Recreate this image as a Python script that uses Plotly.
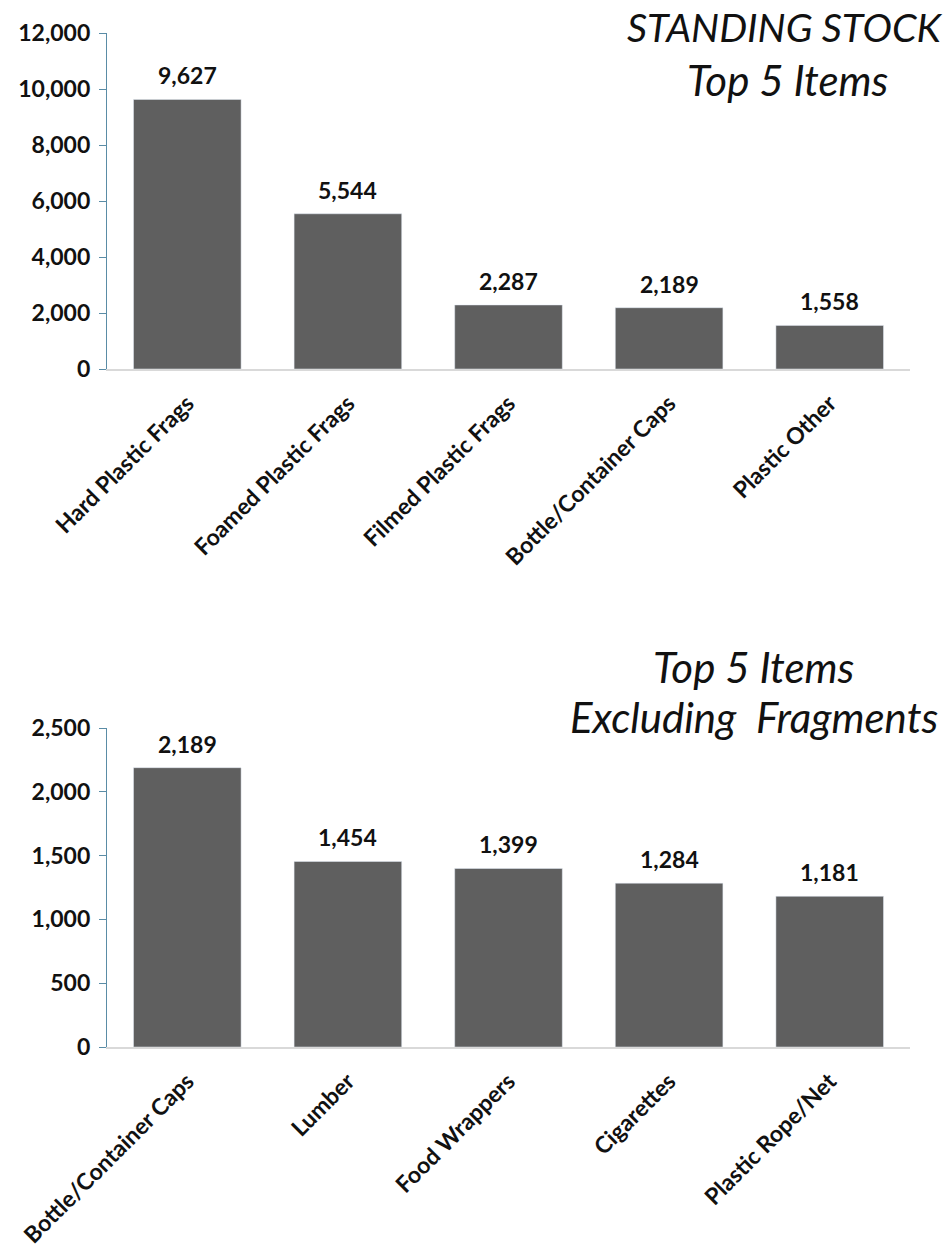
import plotly.graph_objects as go

top_categories = ["Hard Plastic Frags", "Foamed Plastic Frags", "Filmed Plastic Frags",
                  "Bottle/Container Caps", "Plastic Other"]
top_values = [9627, 5544, 2287, 2189, 1558]
top_ticks = [0, 2000, 4000, 6000, 8000, 10000, 12000]

bot_categories = ["Bottle/Container Caps", "Lumber", "Food Wrappers", "Cigarettes", "Plastic Rope/Net"]
bot_values = [2189, 1454, 1399, 1284, 1181]
bot_ticks = [0, 500, 1000, 1500, 2000, 2500]

W, H = 951, 1254
BAR = "#5f5f5f"
FONT = "Lato"

def py(px):
    return 1 - px / H

fig = go.Figure()
fig.add_trace(go.Bar(x=top_categories, y=top_values, marker_color=BAR, xaxis="x", yaxis="y",
                     width=0.67, hoverinfo="skip"))
fig.add_trace(go.Bar(x=bot_categories, y=bot_values, marker_color=BAR, xaxis="x2", yaxis="y2",
                     width=0.67, hoverinfo="skip"))

for cats, vals, xa, ya in [(top_categories, top_values, "x", "y"), (bot_categories, bot_values, "x2", "y2")]:
    for c, v in zip(cats, vals):
        fig.add_annotation(x=c, y=v, xref=xa, yref=ya, text=f"{v:,}", showarrow=False,
                           yanchor="bottom", yshift=8,
                           font=dict(family=FONT, size=23, color="#111", weight="bold"))

xdom = [107 / W, 910 / W]
axis_common = dict(tickangle=-45, tickfont=dict(family=FONT, size=23, color="#111", weight="bold"),
                   showline=True, linecolor="#d9d9d9", linewidth=1.5, ticks="", showgrid=False,
                   domain=xdom, fixedrange=True, automargin=False, ticklabelstandoff=10)
yaxis_common = dict(showline=True, linecolor="#5a8ca6", linewidth=1.2, ticks="outside", ticklen=7,
                    tickcolor="#5a8ca6", showgrid=False, zeroline=False, tickformat=",",
                    tickfont=dict(family=FONT, size=23, color="#111", weight="bold"),
                    ticklabelstandoff=4, automargin=False)

fig.update_layout(
    width=W, height=H, margin=dict(l=0, r=0, t=0, b=0),
    paper_bgcolor="white", plot_bgcolor="white", showlegend=False,
    xaxis=dict(axis_common, anchor="y"),
    xaxis2=dict(axis_common, anchor="y2"),
    yaxis=dict(yaxis_common, domain=[py(369), py(33)], range=[0, 12000], tickvals=top_ticks, anchor="x"),
    yaxis2=dict(yaxis_common, domain=[py(1047), py(728)], range=[0, 2500], tickvals=bot_ticks, anchor="x2"),
)

titles = [("STANDING STOCK", 785, 27, 39.5), ("Top 5 Items", 787, 80, 42),
          ("Top 5 Items", 753, 667, 42), ("Excluding  Fragments", 754, 717, 42)]
for t, x, y, s in titles:
    fig.add_annotation(x=x / W, y=py(y), xref="paper", yref="paper", text=t, showarrow=False,
                       xanchor="center", yanchor="middle",
                       font=dict(family=FONT, size=s, color="#111", style="italic"))

fig.write_html("out.html")
